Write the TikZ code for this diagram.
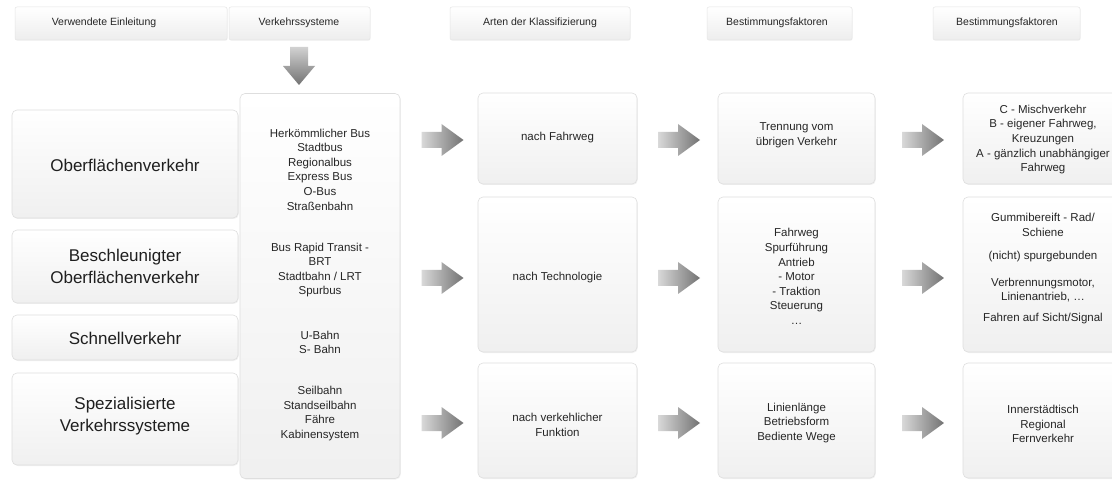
\documentclass[tikz,border=0pt]{standalone}
\usepackage{fontspec}
\setmainfont{Liberation Sans}
\usetikzlibrary{shadows}
\begin{document}
\begin{tikzpicture}[x=1pt,y=-1pt,
  panel/.style={draw=black!13, line width=0.6pt, rounded corners=5pt, top color=white, bottom color=black!6, inner sep=0pt,
     drop shadow={opacity=0.10, shadow xshift=0.8pt, shadow yshift=-1pt}},
  headbox/.style={draw=black!10, line width=0.5pt, rounded corners=2pt, top color=white, bottom color=black!7, inner sep=0pt,
     drop shadow={opacity=0.08, shadow xshift=0.6pt, shadow yshift=-0.8pt}},
  txt/.style={text=black!85, font=\fontsize{11.5}{14.6}\selectfont, align=center, inner sep=0pt},
  bigtxt/.style={text=black!88, font=\fontsize{17}{22}\selectfont, align=center, inner sep=0pt},
  htxt/.style={text=black!85, font=\fontsize{10.5}{13}\selectfont, inner sep=0pt},
  rarrow/.pic={\shade[left color=black!15, right color=black!55, draw=none]
      (-21,-8) -- (-1,-8) -- (-1,-16) -- (21,0) -- (-1,16) -- (-1,8) -- (-21,8) -- cycle;},
  darrow/.pic={\shade[top color=black!18, bottom color=black!55, draw=none]
      (-9,-19) -- (9,-19) -- (9,0) -- (16,0) -- (0,19) -- (-16,0) -- (-9,0) -- cycle;}
]
\clip (0,0) rectangle (1112,481);
\fill[white] (0,0) rectangle (1112,481);

% header row
\node[headbox, minimum width=212pt, minimum height=33pt] (hd1) at (121,23.5) {};
\node[headbox, minimum width=141pt, minimum height=33pt] (hd2) at (299.5,23.5) {};
\node[headbox, minimum width=180pt, minimum height=33pt] (hd3) at (540,23.5) {};
\node[headbox, minimum width=145pt, minimum height=33pt] (hd4) at (779.5,23.5) {};
\node[headbox, minimum width=147pt, minimum height=33pt] (hd5) at (1006.5,23.5) {};
\node[htxt] (ht1) at (104,23) {Verwendete Einleitung};
\node[htxt] (ht2) at (299,23) {Verkehrssysteme};
\node[htxt] (ht3) at (540,23) {Arten der Klassifizierung};
\node[htxt] (ht4) at (777,23) {Bestimmungsfaktoren};
\node[htxt] (ht5) at (1007,23) {Bestimmungsfaktoren};

\pic at (299,66) {darrow};

% left column
\node[panel, minimum width=226pt, minimum height=108pt] (L1) at (125,164) {};
\node[panel, minimum width=226pt, minimum height=73pt] (L2) at (125,266.5) {};
\node[panel, minimum width=226pt, minimum height=45pt] (L3) at (125,337.5) {};
\node[panel, minimum width=226pt, minimum height=92pt] (L4) at (125,419) {};
\node[bigtxt] (l1t) at (125,165) {Oberflächenverkehr};
\node[bigtxt] (l2t) at (125,266) {Beschleunigter\\Oberflächenverkehr};
\node[bigtxt] (l3t) at (125,338) {Schnellverkehr};
\node[bigtxt] (l4t) at (125,416) {Spezialisierte\\Verkehrssysteme};

% Verkehrssysteme column
\node[panel, minimum width=160pt, minimum height=385pt] (V) at (320,286) {};
\node[txt] (v1) at (320,169.5) {Herkömmlicher Bus\\Stadtbus\\Regionalbus\\Express Bus\\O-Bus\\Straßenbahn};
\node[txt] (v2) at (320,270) {Bus Rapid Transit -\\BRT\\Stadtbahn / LRT\\Spurbus};
\node[txt] (v3) at (320,342.5) {U-Bahn\\S- Bahn};
\node[txt] (v4) at (320,413.5) {Seilbahn\\Standseilbahn\\Fähre\\Kabinensystem};

% column 3
\node[panel, minimum width=159pt, minimum height=91pt] (c31) at (557.5,138.5) {};
\node[panel, minimum width=159pt, minimum height=155pt] (c32) at (557.5,274.5) {};
\node[panel, minimum width=159pt, minimum height=115pt] (c33) at (557.5,420.5) {};
\node[txt] (t31) at (557.5,138) {nach Fahrweg};
\node[txt] (t32) at (557.5,278) {nach Technologie};
\node[txt] (t33) at (557.5,425) {nach verkehlicher\\Funktion};

% column 4
\node[panel, minimum width=157pt, minimum height=91pt] (c41) at (796.5,138.5) {};
\node[panel, minimum width=157pt, minimum height=155pt] (c42) at (796.5,274.5) {};
\node[panel, minimum width=157pt, minimum height=115pt] (c43) at (796.5,420.5) {};
\node[txt] (t41) at (796.5,135) {Trennung vom\\übrigen Verkehr};
\node[txt] (t42) at (796.5,276.5) {Fahrweg\\Spurführung\\Antrieb\\- Motor\\- Traktion\\Steuerung\\\dots};
\node[txt] (t43) at (796.5,423) {Linienlänge\\Betriebsform\\Bediente Wege};

% column 5
\node[panel, minimum width=160pt, minimum height=91pt] (c51) at (1043,138.5) {};
\node[panel, minimum width=160pt, minimum height=155pt] (c52) at (1043,274.5) {};
\node[panel, minimum width=160pt, minimum height=115pt] (c53) at (1043,420.5) {};
\node[txt] (t51) at (1043,139.5) {C - Mischverkehr\\B - eigener Fahrweg,\\Kreuzungen\\A - gänzlich unabhängiger\\Fahrweg};
\node[txt] (t52) at (1043,268.5) {Gummibereift - Rad/\\Schiene\\[9pt](nicht) spurgebunden\\[12pt]Verbrennungsmotor,\\Linienantrieb, \dots\\[6pt]Fahren auf Sicht/Signal};
\node[txt] (t53) at (1043,424) {Innerstädtisch\\Regional\\Fernverkehr};

% block arrows
\pic at (442.5,140) {rarrow};
\pic at (442.5,278) {rarrow};
\pic at (442.5,423) {rarrow};
\pic at (679,140) {rarrow};
\pic at (679,278) {rarrow};
\pic at (679,423) {rarrow};
\pic at (923,140) {rarrow};
\pic at (923,278) {rarrow};
\pic at (923,423) {rarrow};
\end{tikzpicture}
\end{document}
